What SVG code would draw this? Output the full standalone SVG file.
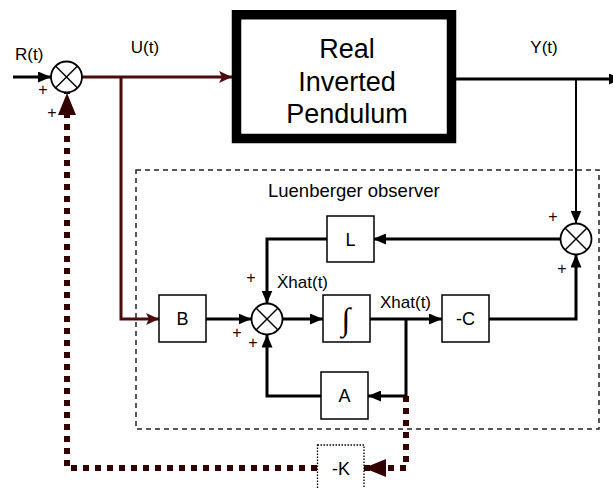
<svg xmlns="http://www.w3.org/2000/svg" width="613" height="488" viewBox="0 0 613 488">
<style>
text{font-family:"Liberation Sans",Arial,sans-serif;fill:#000}
.lbl{font-size:17px}
.box{fill:#fff;stroke:#000;stroke-width:1.5}
.blab{font-size:18px;text-anchor:middle}
.sum circle{fill:#fff;stroke:#000;stroke-width:1.8}
.sum line{stroke:#000;stroke-width:1.5}
.plus{font-size:16px;text-anchor:middle;fill:#260000}
.ln{fill:none;stroke:#000;stroke-width:3}
.thin{fill:none;stroke:#000;stroke-width:2}
.mr{fill:none;stroke:#4a0c0c;stroke-width:3}
.dot{fill:none;stroke:#330000;stroke-width:6;stroke-dasharray:6 6}
</style>
<defs>
<marker id="ab" viewBox="0 0 13 11" refX="13" refY="5.5" markerWidth="13" markerHeight="11" markerUnits="userSpaceOnUse" orient="auto"><path d="M0,0 L13,5.5 L0,11 z" fill="#000"/></marker>
<marker id="am" viewBox="0 0 13 12" refX="13" refY="6" markerWidth="13" markerHeight="12" markerUnits="userSpaceOnUse" orient="auto"><path d="M0,0 L13,6 L0,12 L3,6 z" fill="#4a0c0c"/></marker>
<marker id="ad" viewBox="0 0 22 18" refX="22" refY="9" markerWidth="22" markerHeight="18" markerUnits="userSpaceOnUse" orient="auto"><path d="M0,0 L22,9 L0,18 z" fill="#330000"/></marker>
</defs>
<rect id="observer" x="136" y="170" width="463" height="259" fill="none" stroke="#222" stroke-width="1.5" stroke-dasharray="5 4"/>
<text x="268" y="197" font-size="18.5">Luenberger observer</text>
<g id="connectors">
<path class="ln" d="M13,77 H51" marker-end="url(#ab)"/>
<path class="mr" d="M82,77 H232" marker-end="url(#am)"/>
<path class="mr" d="M121,77 V319 H159" marker-end="url(#am)"/>
<path class="ln" d="M456,79 H622" marker-end="url(#ab)"/>
<path class="thin" d="M576,79 V223.5" marker-end="url(#ab)"/>
<path class="ln" d="M560.5,239 H373" marker-end="url(#ab)"/>
<path class="ln" d="M327,239 H267 V303.5" marker-end="url(#ab)"/>
<path class="ln" d="M206,319 H251.5" marker-end="url(#ab)"/>
<path class="ln" d="M282.5,319 H323" marker-end="url(#ab)"/>
<path class="ln" d="M369,319 H442" marker-end="url(#ab)"/>
<path class="ln" d="M406,319 V396 H368" marker-end="url(#ab)"/>
<path class="ln" d="M321,396 H267 V334.5" marker-end="url(#ab)"/>
<path class="ln" d="M489,319 H576 V254.5" marker-end="url(#ab)"/>
<path class="dot" d="M406,396 V468 H364" marker-end="url(#ad)"/>
<path class="dot" d="M317,468 H67 V93" marker-end="url(#ad)"/>
</g>
<g id="plant">
<rect x="236.5" y="14.75" width="215" height="123.75" fill="#fff" stroke="#000" stroke-width="9.5"/>
<text x="347" y="58" font-size="27" text-anchor="middle">Real</text>
<text x="347" y="91" font-size="27" text-anchor="middle">Inverted</text>
<text x="347" y="123" font-size="27" text-anchor="middle">Pendulum</text>
</g>
<g id="sum1" class="sum"><circle cx="66.5" cy="77" r="15.5"/><line x1="55.5" y1="66" x2="77.5" y2="88"/><line x1="77.5" y1="66" x2="55.5" y2="88"/></g>
<g id="sum2" class="sum"><circle cx="267" cy="319" r="15.5"/><line x1="256" y1="308" x2="278" y2="330"/><line x1="278" y1="308" x2="256" y2="330"/></g>
<g id="sum3" class="sum"><circle cx="576" cy="239" r="15.5"/><line x1="565" y1="228" x2="587" y2="250"/><line x1="587" y1="228" x2="565" y2="250"/></g>
<g id="B"><rect class="box" x="159" y="295" width="47" height="47"/><text class="blab" x="182.5" y="325">B</text></g>
<g id="L"><rect class="box" x="327" y="216" width="47" height="46"/><text class="blab" x="350.5" y="245.5">L</text></g>
<g id="integrator"><rect class="box" x="323" y="295" width="47" height="47"/><text x="346" y="330" font-size="32" text-anchor="middle" font-style="italic" style="font-family:'Liberation Serif','DejaVu Serif',serif">∫</text></g>
<g id="C"><rect class="box" x="442" y="295" width="47" height="47"/><text class="blab" x="465.5" y="325">-C</text></g>
<g id="A"><rect class="box" x="321" y="372" width="47" height="47"/><text class="blab" x="344.5" y="402">A</text></g>
<g id="K"><rect x="317.5" y="445" width="46.5" height="44" fill="#fff" stroke="#000" stroke-width="1.3" stroke-dasharray="1.5 1.5"/><text class="blab" x="341" y="474.5">-K</text></g>
<g id="labels">
<text class="lbl" x="15" y="60">R(t)</text>
<text class="lbl" x="145" y="53" text-anchor="middle">U(t)</text>
<text class="lbl" x="544" y="53" text-anchor="middle">Y(t)</text>
<text class="lbl" x="277" y="288">Ẋhat(t)</text>
<text class="lbl" x="380" y="308">Xhat(t)</text>
<text class="plus" x="43" y="95">+</text>
<text class="plus" x="52" y="118">+</text>
<text class="plus" x="251" y="283">+</text>
<text class="plus" x="237" y="338">+</text>
<text class="plus" x="253" y="348">+</text>
<text class="plus" x="553" y="222">+</text>
<text class="plus" x="562" y="274">+</text>
</g>
</svg>
